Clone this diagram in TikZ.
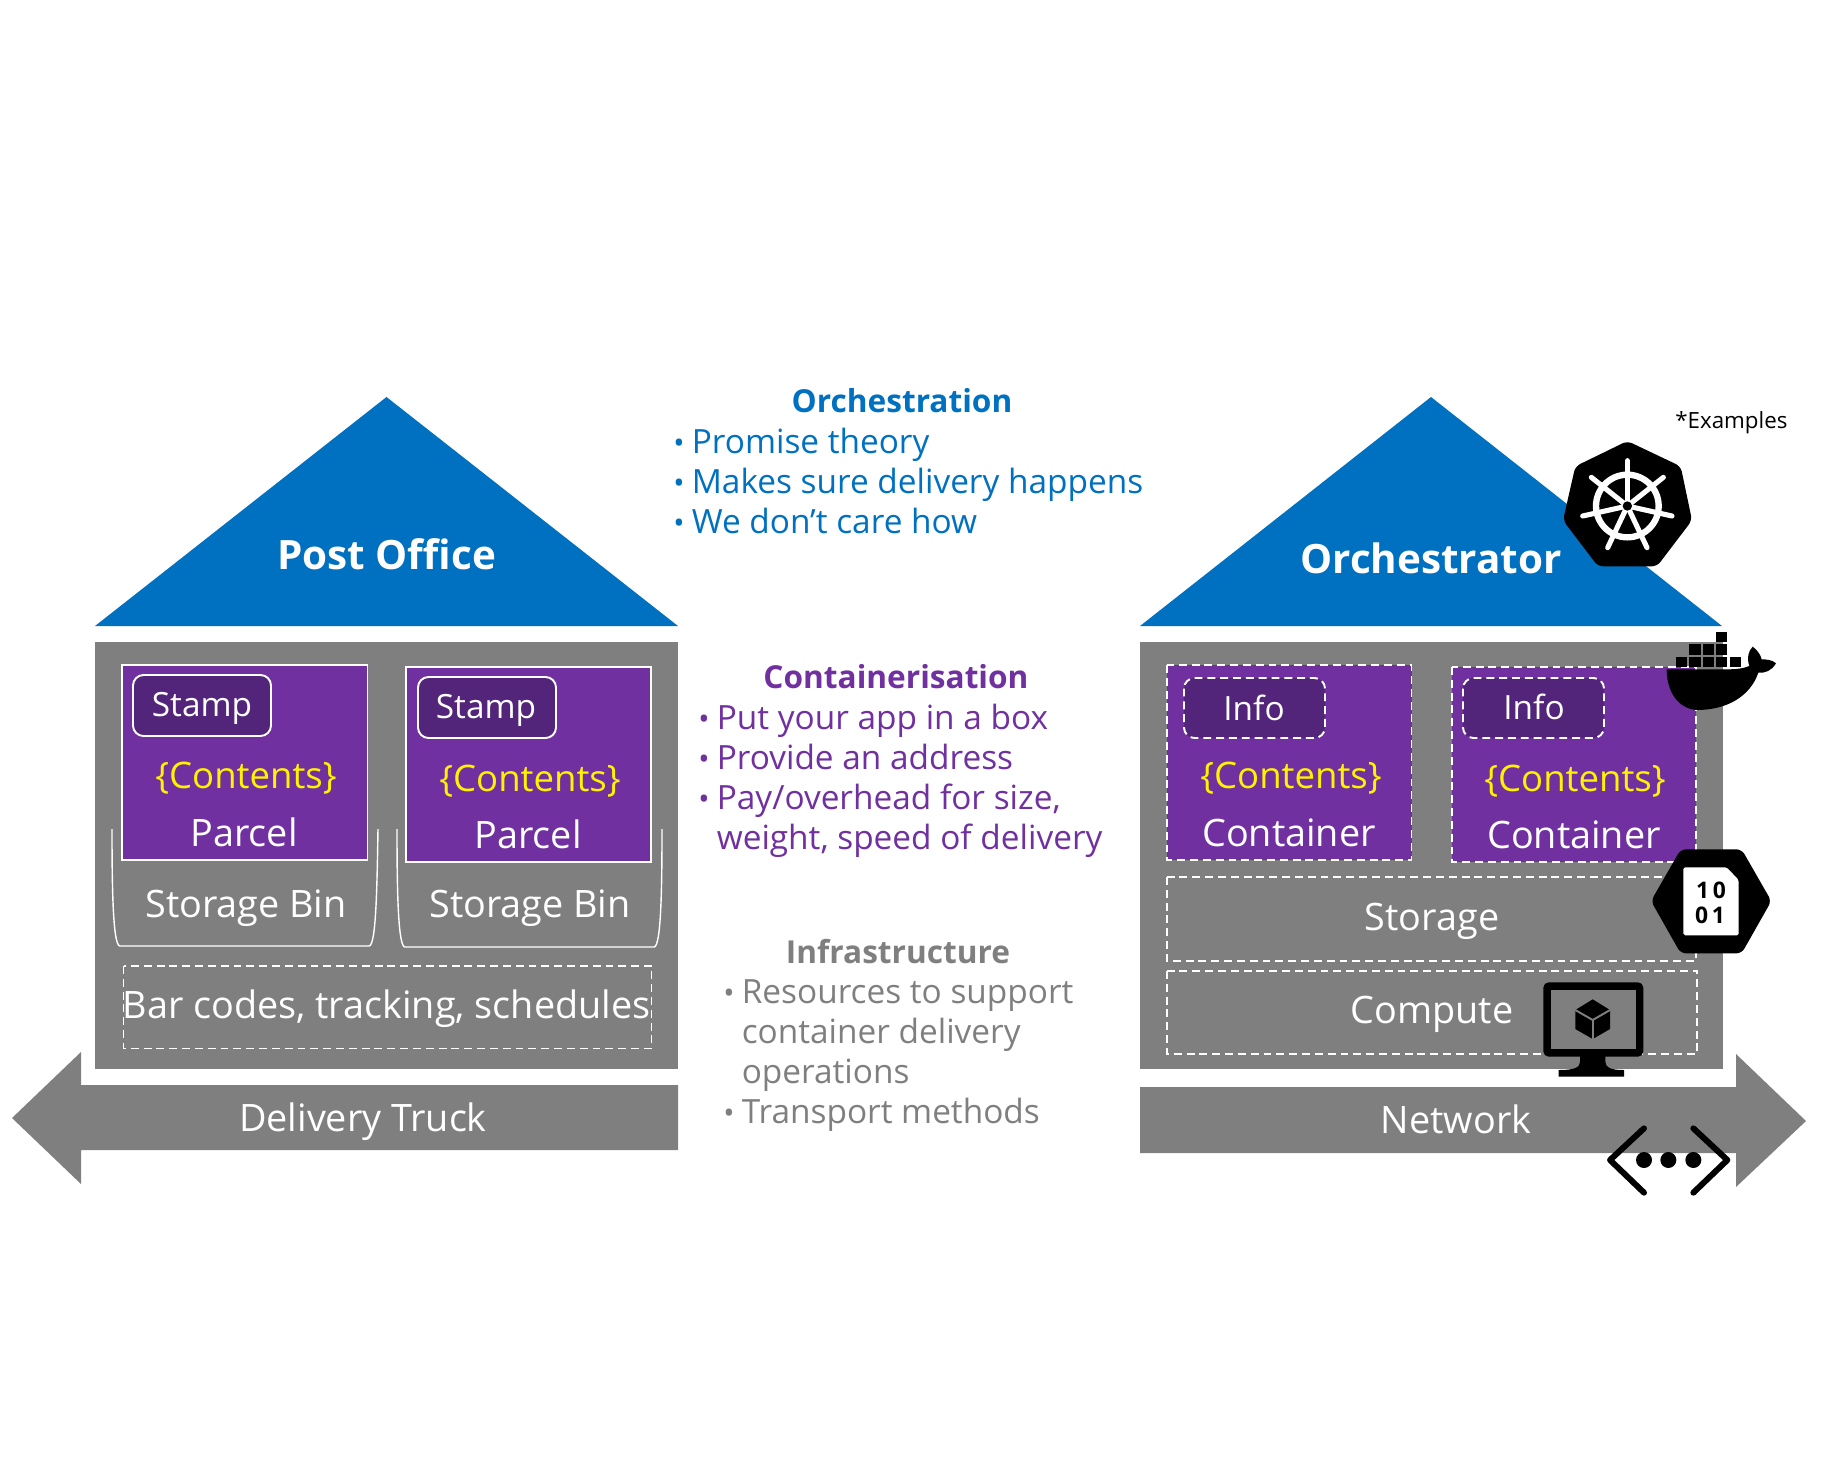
\documentclass[tikz,border=0pt]{standalone}
\usepackage{fontspec}
\setmainfont{Open Sans}
\definecolor{roofblue}{HTML}{0070C0}
\definecolor{boxpurple}{HTML}{7030A0}
\definecolor{tagpurple}{HTML}{52247A}
\definecolor{wallgray}{HTML}{7F7F7F}
\newcommand{\listbullet}{\makebox[10.5pt][l]{\fontsize{17}{17}\selectfont •}}
\newcommand{\listindent}{\hspace*{10.5pt}}
\tikzset{
    roof/.style={fill=roofblue,draw=none},
    wall/.style={fill=wallgray,draw=none},
    parcelbox/.style={fill=boxpurple,draw=white,line width=1.1pt},
    containerbox/.style={fill=boxpurple,draw=white,line width=1.1pt,dash pattern=on 4.5pt off 2.8pt},
    stampbox/.style={fill=tagpurple,draw=white,line width=1.1pt,rounded corners=6pt},
    infobox/.style={stampbox,dash pattern=on 4.5pt off 2.8pt},
    dashbox/.style={draw=white,line width=1.1pt,dash pattern=on 4.5pt off 2.8pt},
    bin/.style={draw=white,line width=0.8pt},
    word/.style={anchor=mid,text=white,inner sep=0pt,yshift=-5pt,font=\fontsize{21.5}{26}\selectfont},
    yellowword/.style={word,text=yellow,font=\fontsize{20.8}{26}\selectfont},
    smallword/.style={word,yshift=1.2pt,font=\fontsize{19}{23}\selectfont},
    roofword/.style={word,font=\bfseries\fontsize{23}{27}\selectfont},
    headword/.style={anchor=mid,inner sep=0pt,yshift=-4pt,font=\bfseries\fontsize{18}{22}\selectfont},
    listtext/.style={anchor=north west,inner sep=0pt,align=left,font=\fontsize{19}{22.68}\selectfont},
    icon/.style={fill=black,draw=none}
}
\begin{document}
\begin{tikzpicture}[x=0.02cm,y=-0.02cm]
    \useasboundingbox (0,0) rectangle (1821,1478);

    % post office
    \fill[roof] (386.5,397)--(678,626)--(95,626)--cycle;
    \node[roofword] (postoffice) at (386.5,556) {Post Office};
    \fill[wall] (95,642) rectangle (678,1069);

    \draw[parcelbox] (122,665) rectangle (367.5,860);
    \draw[stampbox] (133,675) rectangle (271,736);
    \node[smallword] (stampa) at (202,705) {Stamp};
    \node[yellowword] (contentsa) at (246,775) {\{Contents\}};
    \node[word] (parcela) at (244,833) {Parcel};

    \draw[parcelbox] (406,667) rectangle (651,862);
    \draw[stampbox] (418,677) rectangle (556,738);
    \node[smallword] (stampb) at (486,707) {Stamp};
    \node[yellowword] (contentsb) at (530,778) {\{Contents\}};
    \node[word] (parcelb) at (528,835) {Parcel};

    \draw[bin] (112,829) .. controls (112,890) and (113,946) .. (120,946)--(369,946) .. controls (376,946) and (377,890) .. (378,829);
    \draw[bin] (397,829) .. controls (397,890) and (398,947) .. (405,947)--(654,947) .. controls (661,947) and (662,890) .. (662,829);
    \node[word] (bina) at (246,904) {Storage Bin};
    \node[word] (binb) at (530,904) {Storage Bin};

    \draw[dashbox] (123.5,966) rectangle (651.5,1048.5);
    \node[word] (barcodes) at (386.5,1005) {Bar codes, tracking, schedules};

    \fill[wall] (678,1085)--(81,1085)--(81,1052)--(12,1118)--(81,1184)--(81,1150)--(678,1150)--cycle;
    \node[word] (truck) at (363,1118) {Delivery Truck};

    % orchestrator
    \fill[roof] (1431,397)--(1722,626)--(1140,626)--cycle;
    \node[roofword] (orchestrator) at (1431,560) {Orchestrator};
    \fill[wall] (1140,642) rectangle (1722.5,1069);

    \draw[containerbox] (1167,665) rectangle (1411.5,860);
    \draw[infobox] (1184,678) rectangle (1325,738);
    \node[smallword] (infoa) at (1254,709) {Info};
    \node[yellowword] (contentsc) at (1291,775) {\{Contents\}};
    \node[word] (containera) at (1289,833) {Container};

    \draw[containerbox] (1452,667) rectangle (1696,862);
    \draw[infobox] (1463,678) rectangle (1604,738);
    \node[smallword] (infob) at (1534,708) {Info};
    \node[yellowword] (contentsd) at (1575,778) {\{Contents\}};
    \node[word] (containerb) at (1574,835) {Container};

    \draw[dashbox] (1167,877) rectangle (1696,961);
    \node[word] (storage) at (1432,917) {Storage};
    \draw[dashbox] (1167,971) rectangle (1697,1054);
    \node[word] (compute) at (1432,1010) {Compute};

    \fill[wall] (1140,1087)--(1736,1087)--(1736,1054)--(1806,1121)--(1736,1187)--(1736,1153)--(1140,1153)--cycle;
    \node[word] (network) at (1456,1120) {Network};

    % middle column
    \node[headword,text=roofblue] (orchtitle) at (902,401) {Orchestration};
    \node[listtext,text=roofblue] (orchlist) at (673,428) {\listbullet Promise theory\\\listbullet Makes sure delivery happens\\\listbullet We don’t care how};
    \node[headword,text=boxpurple] (conttitle) at (896,677) {Containerisation};
    \node[listtext,text=boxpurple] (contlist) at (698,704) {\listbullet Put your app in a box\\\listbullet Provide an address\\\listbullet Pay/overhead for size,\\\listindent weight, speed of delivery};
    \node[headword,text=wallgray] (infratitle) at (898,952) {Infrastructure};
    \node[listtext,text=wallgray] (infralist) at (723,979.5) {\listbullet Resources to support\\\listindent container delivery\\\listindent operations\\\listbullet Transport methods};

    \node[anchor=mid west,inner sep=0pt,yshift=-1.5pt,font=\fontsize{12.7}{14}\selectfont] (examples) at (1675,421) {*Examples};

    % kubernetes, docker (zoomed frame)
    \begin{scope}[shift={(1500,380)},scale=1/3]
        \fill[icon,rounded corners=3pt] (382,183)--(542,259)--(576,421)--(471,559)--(294,559)--(189,421)--(226,259)--cycle;
        \draw[white,line width=3.6pt] (382,378) circle[radius=94];
        \draw[white,line width=2.9pt,line cap=round] (382,378)--(382,242);
        \draw[white,line width=2.9pt,line cap=round] (382,378)--(274,292);
        \draw[white,line width=2.9pt,line cap=round] (382,378)--(490,292);
        \draw[white,line width=2.9pt,line cap=round] (382,378)--(248,408);
        \draw[white,line width=2.9pt,line cap=round] (382,378)--(516,408);
        \draw[white,line width=2.9pt,line cap=round] (382,378)--(323,503);
        \draw[white,line width=2.9pt,line cap=round] (382,378)--(441,503);
        \fill[black] (382,378) circle[radius=14];

        \fill[icon] (648,757) rectangle (682,787);
        \fill[icon] (568,793) rectangle (602,825);
        \fill[icon] (608,793) rectangle (642,825);
        \fill[icon] (648,793) rectangle (682,825);
        \fill[icon] (528,830) rectangle (562,860);
        \fill[icon] (568,830) rectangle (602,860);
        \fill[icon] (608,830) rectangle (642,860);
        \fill[icon] (648,830) rectangle (682,860);
        \fill[icon] (690,830) rectangle (722,860);
        \fill[icon] (500,868)--(680,868) .. controls (705,868) and (730,866) .. (748,858) .. controls (740,835) and (745,812) .. (758,800) .. controls (772,810) and (782,825) .. (785,838) .. controls (800,838) and (818,840) .. (828,850) .. controls (815,872) and (795,880) .. (775,878) .. controls (750,950) and (680,990) .. (590,990) .. controls (530,985) and (500,930) .. (500,868)--cycle;
    \end{scope}

    % storage, vm, network (zoomed frame)
    \begin{scope}[shift={(1500,830)},scale=1/3]
        \fill[icon,rounded corners=3pt] (453,213)--(542,58)--(725,58)--(814,213)--(725,370)--(542,370)--cycle;
        \fill[white,rounded corners=1pt] (550,112)--(680,112)--(716,150)--(716,316)--(550,316)--cycle;
        \node[anchor=mid,inner sep=0pt,font=\bfseries\fontsize{13}{13}\selectfont] (bitsa) at (633,190) {1\,0};
        \node[anchor=mid,inner sep=0pt,font=\bfseries\fontsize{13}{13}\selectfont] (bitsb) at (630,265) {0\,1};

        \fill[icon,rounded corners=3pt] (130,457) rectangle (430,680);
        \fill[wall] (152,480) rectangle (407,657);
        \fill[icon] (240,675)--(316,675)--(316,695) .. controls (316,712) and (330,720) .. (372,720)--(372,740)--(176,740)--(176,720) .. controls (225,720) and (240,712) .. (240,695)--cycle;
        \fill[icon] (278,508)--(330,540)--(330,597)--(278,627)--(226,597)--(226,540)--cycle;
        \draw[wallgray,line width=1.1pt] (226,540)--(278,570)--(330,540);
        \draw[wallgray,line width=1.1pt] (278,570)--(278,627);

        \draw[black,line width=3.4pt,line cap=round,line join=round] (432,895)--(330,990)--(432,1088);
        \draw[black,line width=3.4pt,line cap=round,line join=round] (580,895)--(682,990)--(580,1088);
        \fill[black] (432,990) circle[radius=24];
        \fill[black] (505,990) circle[radius=24];
        \fill[black] (580,990) circle[radius=24];
    \end{scope}
\end{tikzpicture}
\end{document}
